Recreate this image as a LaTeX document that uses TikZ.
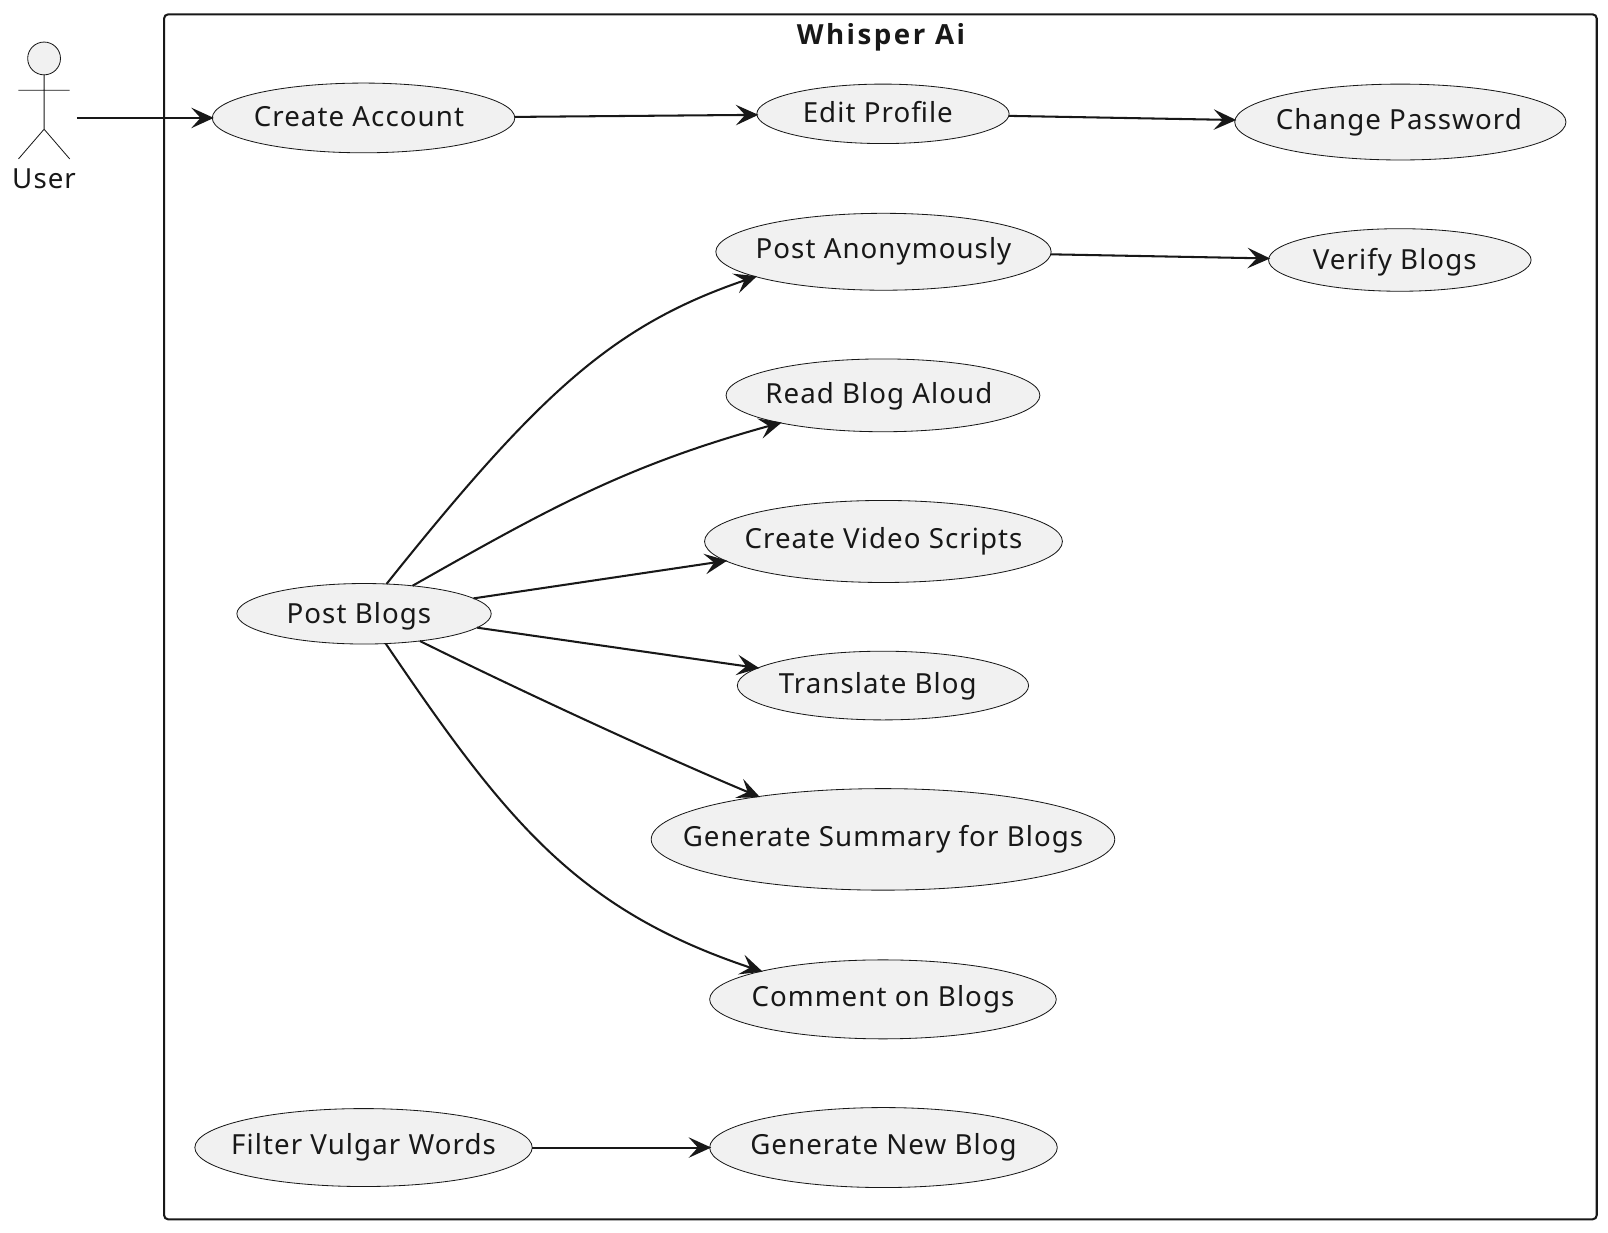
\documentclass[tikz,border=0pt]{standalone}
\usepackage{fontspec}
\setmainfont[LetterSpace=3.8]{Noto Sans}
\newfontfamily\titlefont[LetterSpace=9]{Open Sans}
\usetikzlibrary{shapes.geometric,arrows.meta}
\definecolor{ink}{HTML}{181818}
\definecolor{fillc}{HTML}{F1F1F1}
\newcommand{\ut}[3]{\smash{\makebox[0pt]{\kern#1pt\kern#1pt\raisebox{#2pt}{#3}}}}
\tikzset{
  usecase/.style={ellipse,draw=ink,fill=fillc,line width=0.8pt,inner sep=0pt,outer sep=0pt,font=\fontsize{27pt}{30pt}\selectfont,text=ink},
  conn/.style={draw=ink,line width=2pt,shorten >=-1.5pt,-{Stealth[length=22pt,width=20pt,inset=9pt]}},
  frame/.style={draw=ink,line width=2pt,rounded corners=4pt},
}
\begin{document}
\begin{tikzpicture}[x=1pt,y=-1pt]
\useasboundingbox (0,0) rectangle (1568,1201.4);
\draw[frame] (160,14) rectangle (1557,1189);
\node[font=\titlefont\bfseries\fontsize{27pt}{30pt}\selectfont,text=ink] (title) at (859,36) {Whisper Ai};
% actor
\node[circle,draw=ink,fill=fillc,line width=0.8pt,minimum size=32pt,inner sep=0pt,outer sep=0pt] (head) at (43,57) {};
\coordinate (hip) at (43,126);
\coordinate (armL) at (18,88);
\coordinate (armR) at (68,88);
\coordinate (legL) at (18,155);
\coordinate (legR) at (68,155);
\draw[ink,line width=0.8pt] (head.south) -- (hip) (armL) -- (armR) (legL) -- (hip) -- (legR);
\node[font=\fontsize{27pt}{30pt}\selectfont,text=ink] (user) at (43,174) {User};
\coordinate (userOut) at (75,115);
% use cases
\node[usecase,minimum width=295pt,minimum height=68pt] (ca) at (354.5,115) {\ut{-4.5}{-8}{Create Account}};
\node[usecase,minimum width=246pt,minimum height=58pt] (ep) at (861,111) {\ut{-5}{-8}{Edit Profile}};
\node[usecase,minimum width=323pt,minimum height=74pt] (cp) at (1365.5,119) {\ut{-1.5}{-7}{Change Password}};
\node[usecase,minimum width=327pt,minimum height=75pt] (pa) at (861.5,245.5) {\ut{0}{-7}{Post Anonymously}};
\node[usecase,minimum width=256pt,minimum height=61pt] (vb) at (1365,253.5) {\ut{-5}{-9}{Verify Blogs}};
\node[usecase,minimum width=306pt,minimum height=71pt] (rb) at (861,385.5) {\ut{-4}{-8}{Read Blog Aloud}};
\node[usecase,minimum width=349pt,minimum height=80pt] (vs) at (861.5,528) {\ut{0}{-7}{Create Video Scripts}};
\node[usecase,minimum width=248pt,minimum height=59pt] (pb) at (355,598.5) {\ut{-5}{-9}{Post Blogs}};
\node[usecase,minimum width=284pt,minimum height=67pt] (tb) at (861,668.5) {\ut{-5}{-8}{Translate Blog}};
\node[usecase,minimum width=452pt,minimum height=99pt] (gs) at (861,818.5) {\ut{0}{-7}{Generate Summary for Blogs}};
\node[usecase,minimum width=338pt,minimum height=77pt] (cb) at (861,974.5) {\ut{0}{-7}{Comment on Blogs}};
\node[usecase,minimum width=329pt,minimum height=76pt] (fv) at (354.5,1119) {\ut{0}{-7}{Filter Vulgar Words}};
\node[usecase,minimum width=339pt,minimum height=78pt] (gn) at (861.5,1119) {\ut{0}{-7}{Generate New Blog}};
% connectors
\draw[conn] (userOut) -- (ca.west);
\draw[conn] ([yshift=1pt]ca.east) -- ([yshift=-1pt]ep.west);
\draw[conn] ([yshift=-2pt]ep.east) -- ([yshift=2pt]cp.west);
\draw[conn] ([yshift=-2.5pt]pa.east) -- ([yshift=1.5pt]vb.west);
\draw[conn] (fv) -- (gn);
\draw[conn] (pb.53.3) .. controls (526,383) and (598,317) .. (pa.191.6);
\draw[conn] (pb.30.2) .. controls (535,496) and (610,454) .. (rb.195.2);
\draw[conn] (pb.8.1) -- (vs.187.6);
\draw[conn] (pb.-7.6) -- (tb.172.7);
\draw[conn] (pb.-26.1) .. controls (500,670) and (640,735) .. (gs.161.1);
\draw[conn] (pb.-54.5) .. controls (493,800) and (562,887) .. (cb.167.8);
\end{tikzpicture}
\end{document}
